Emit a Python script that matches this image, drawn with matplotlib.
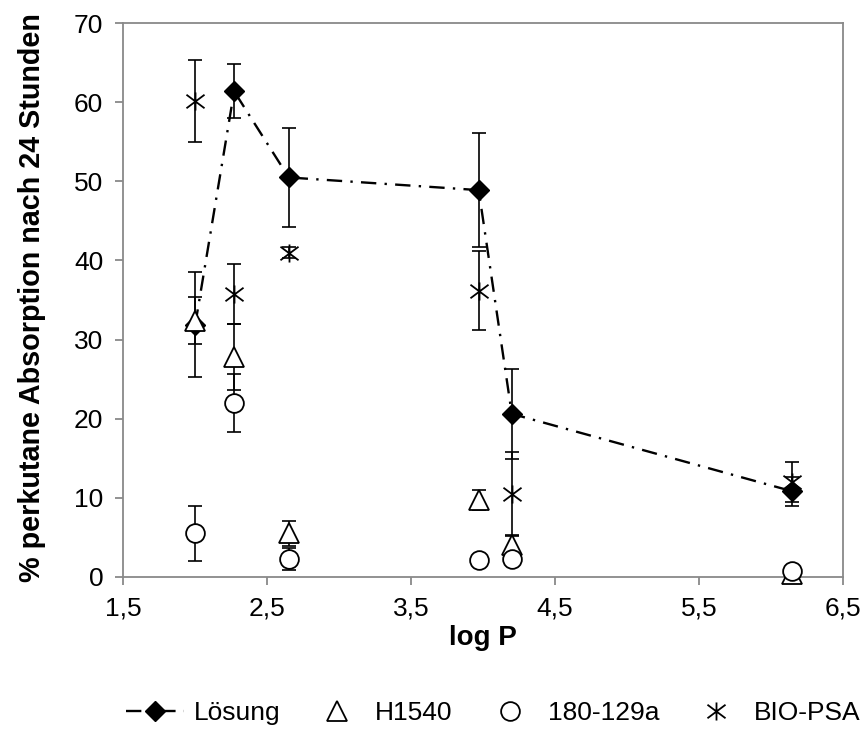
import matplotlib
matplotlib.use("Agg")
import matplotlib.pyplot as plt
from matplotlib.path import Path
from matplotlib.lines import Line2D

plt.rcParams['font.family'] = ['Liberation Sans', 'DejaVu Sans']

# data
log_p = [2.0, 2.27, 2.65, 3.97, 4.2, 6.15]
loesung = [31.9, 61.4, 50.5, 48.9, 20.6, 10.8]
loesung_err = [6.7, 3.4, 6.3, 7.2, 5.7, 1.8]
h1540 = [32.4, 27.8, 5.5, 9.7, 4.0, 0.3]
h1540_err = [3.0, 4.2, 1.6, 1.3, 1.3, 0.3]
c180 = [5.5, 22.0, 2.2, 2.1, 2.2, 0.7]
c180_err = [3.5, 3.7, 1.4, 0.0, 0.0, 0.3]
bio = [60.2, 35.8, 41.0, 36.2, 10.5, 12.0]
bio_err = [5.2, 3.8, 0.7, 5.0, 5.3, 2.5]

xticks = [1.5, 2.5, 3.5, 4.5, 5.5, 6.5]
xtick_labels = ['1,5', '2,5', '3,5', '4,5', '5,5', '6,5']
yticks = [0, 10, 20, 30, 40, 50, 60, 70]

M, L = Path.MOVETO, Path.LINETO
star = Path([(-1, -0.75), (1, 0.75), (-1, 0.75), (1, -0.75), (0, -1), (0, 1)],
            [M, L, M, L, M, L])

fig = plt.figure(figsize=(8.66, 7.4), dpi=100)
ax = fig.add_axes([0.1424, 0.2207, 0.8307, 0.7478])

eb = dict(fmt='none', ecolor='black', elinewidth=1.2, capsize=4.8, capthick=1.2, clip_on=False)
lst = (0, (6.5, 3.5, 1, 3.5))

ax.plot(log_p, loesung, color='black', lw=1.7, linestyle=lst, zorder=2, clip_on=False)
ax.errorbar(log_p, loesung, yerr=loesung_err, zorder=3, **eb)
ax.plot(log_p, loesung, 'D', ms=10, color='black', zorder=4, clip_on=False)

ax.errorbar(log_p, h1540, yerr=h1540_err, zorder=5, **eb)
ax.plot(log_p, h1540, '^', ms=14, mfc='white', mec='black', mew=1.3, zorder=6, clip_on=False)

ax.errorbar(log_p, c180, yerr=c180_err, zorder=7, **eb)
ax.plot(log_p, c180, 'o', ms=13.5, mfc='white', mec='black', mew=1.3, zorder=8, clip_on=False)

ax.errorbar(log_p, bio, yerr=bio_err, zorder=9, **eb)
ax.plot(log_p, bio, marker=star, linestyle='none', ms=13, color='black', mew=1.3, zorder=10, clip_on=False)

ax.set_xlim(1.5, 6.5)
ax.set_ylim(0, 70)
ax.set_xticks(xticks)
ax.set_xticklabels(xtick_labels)
ax.set_yticks(yticks)
for s in ax.spines.values():
    s.set_color('#898989')
    s.set_linewidth(1.3)
ax.tick_params(direction='out', length=5.5, width=1.3, color='#898989', labelsize=19)
ax.tick_params(axis='y', pad=9)
ax.tick_params(axis='x', pad=9)

ax.set_xlabel('log P', fontsize=20, fontweight='bold', labelpad=3)
ax.set_ylabel('% perkutane Absorption nach 24 Stunden', fontsize=20.7, fontweight='bold')
ax.yaxis.set_label_coords(-0.108, 0.505)

handles = [
    Line2D([], [], color='black', lw=1.7, linestyle=lst, marker='D', ms=10),
    Line2D([], [], linestyle='none', marker='^', ms=14, mfc='white', mec='black', mew=1.3),
    Line2D([], [], linestyle='none', marker='o', ms=13.5, mfc='white', mec='black', mew=1.3),
    Line2D([], [], linestyle='none', marker=star, ms=13, color='black', mew=1.3),
]
fig.legend(handles, ['Lösung', 'H1540', '180-129a', 'BIO-PSA'], loc='center',
           bbox_to_anchor=(0.57, 0.036), ncol=4, frameon=False, fontsize=19,
           handlelength=2.2, handletextpad=0.35, columnspacing=1.05)

fig.savefig('out.png', dpi=100)
